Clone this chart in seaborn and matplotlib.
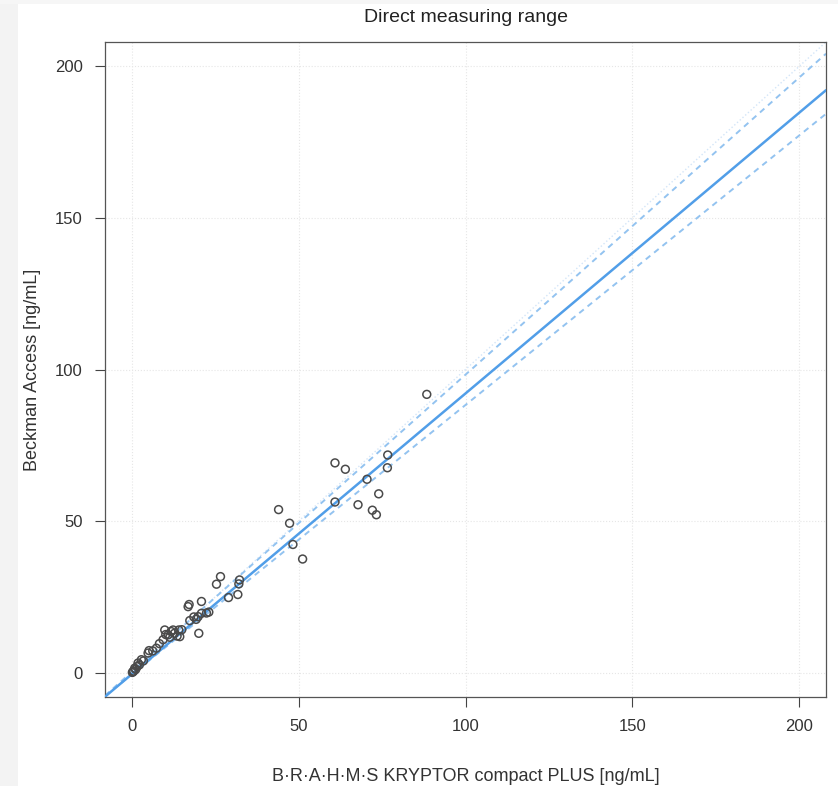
import matplotlib
matplotlib.use("Agg")
import matplotlib.pyplot as plt
from matplotlib.patches import Rectangle
import seaborn as sns
import pandas as pd

# ---- data ----
kryptor = [88.4, 60.9, 64.0, 76.7, 76.6, 70.5, 74.0, 60.9, 67.8, 72.1, 73.3,
           44.0, 47.3, 48.3, 51.2,
           26.6, 25.4, 32.3, 32.1, 20.9, 17.2, 16.9, 29.0, 31.8, 23.1, 20.9,
           19.9, 17.4, 20.1, 14.1, 12.4, 9.9, 10.9, 14.4, 9.4, 11.4, 7.4, 5.2,
           4.9, 2.9, 1.9, 0.9, 0.4,
           0.2, 0.6, 1.2, 1.6, 2.3, 3.5, 6.3, 8.3, 12.8, 13.6, 15.0, 18.6,
           22.4, 19.3, 10.2, 11.8]
beckman = [91.8, 69.2, 67.1, 71.8, 67.6, 63.8, 59.0, 56.3, 55.4, 53.6, 52.1,
           53.8, 49.3, 42.3, 37.5,
           31.7, 29.2, 30.6, 29.3, 23.5, 22.5, 21.8, 24.8, 25.8, 20.0, 19.6,
           18.5, 17.2, 13.0, 14.1, 14.1, 14.1, 12.5, 11.9, 10.9, 11.7, 8.1, 7.3,
           6.5, 4.3, 3.2, 1.5, 0.4,
           0.1, 0.5, 1.1, 2.0, 2.6, 3.9, 7.2, 9.6, 13.0, 12.1, 14.2, 18.4,
           19.7, 17.6, 12.6, 13.6]

# regression line and confidence limits (intercept, slope)
fit_line = (-0.5, 0.926)
ci_upper = (0.3, 0.980)
ci_lower = (-0.6, 0.889)
identity = (0.0, 1.0)

ticks = [0, 50, 100, 150, 200]
title = "Direct measuring range"
xlabel = "B\u00b7R\u00b7A\u00b7H\u00b7M\u00b7S KRYPTOR compact PLUS [ng/mL]"
ylabel = "Beckman Access [ng/mL]"

df = pd.DataFrame({"kryptor": kryptor, "beckman": beckman})

sns.set_theme(style="white")
plt.rcParams["font.family"] = ["Liberation Sans", "DejaVu Sans"]

fig = plt.figure(figsize=(8.38, 7.86), dpi=100)
fig.patch.set_facecolor("white")
fig.patches.append(Rectangle((0, 0), 18 / 838, 1, transform=fig.transFigure,
                             facecolor="#f3f3f3", edgecolor="none", zorder=-10))
fig.patches.append(Rectangle((0, 1 - 4 / 786), 1, 4 / 786, transform=fig.transFigure,
                             facecolor="#f6f6f6", edgecolor="none", zorder=-10))

ax = fig.add_axes([105 / 838, 1 - 697 / 786, 721 / 838, 655 / 786])
ax.set_xlim(-8, 208)
ax.set_ylim(-8, 208)

# grid
for t in ticks:
    ax.axvline(t, color="#e6e6e6", lw=0.8, ls=":", zorder=0)
    ax.axhline(t, color="#e6e6e6", lw=0.8, ls=":", zorder=0)

# lines
ax.axline((0, identity[0]), slope=identity[1], color="#d3e5f8", lw=1.0, ls=":", zorder=1)
ax.axline((0, ci_upper[0]), slope=ci_upper[1], color="#93c3f0", lw=1.4, ls=(0, (3, 2.5)), zorder=2)
ax.axline((0, ci_lower[0]), slope=ci_lower[1], color="#93c3f0", lw=1.4, ls=(0, (3, 2.5)), zorder=2)
ax.axline((0, fit_line[0]), slope=fit_line[1], color="#519ee8", lw=1.8, zorder=3)

sns.scatterplot(data=df, x="kryptor", y="beckman", ax=ax, marker="o", s=32,
                facecolor="none", edgecolor="#4a4a4a", linewidth=1.1, zorder=4)

ax.set_xticks(ticks)
ax.set_yticks(ticks)
ax.tick_params(axis="both", which="major", direction="out", length=7, width=0.8,
               color="#444444", labelsize=12, labelcolor="#333333", pad=9,
               bottom=True, left=True)
for s in ax.spines.values():
    s.set_color("#555555")
    s.set_linewidth(0.9)

ax.set_xlabel(xlabel, fontsize=13, color="#333333", labelpad=24)
ax.set_ylabel(ylabel, fontsize=13, color="#333333", labelpad=10)
fig.text(0.5 * (105 + 826) / 838, 1 - 17 / 786, title, ha="center", va="center",
         fontsize=14, color="#222222")

fig.savefig("out.png", dpi=100)
